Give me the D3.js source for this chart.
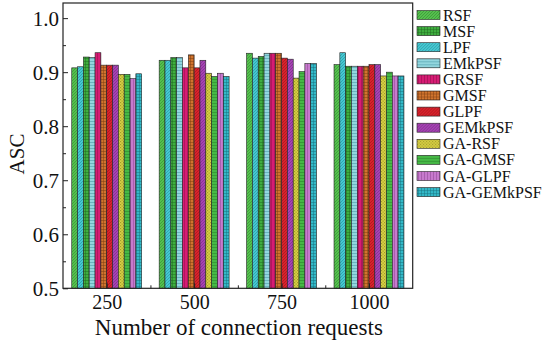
<!DOCTYPE html>
<html lang="en">
<head>
<meta charset="UTF-8">
<title>ASC bars</title>
<script src="https://cdn.jsdelivr.net/npm/d3@7"></script>
<style>
    body{ margin:0; background:#fff; }
    svg text{ font-family:"Liberation Serif","Times New Roman",serif; fill:#111; }
</style>
</head>
<body>
<svg id="chart" width="544" height="340"></svg>
<script>
    // data
    let groups = [250, 500, 750, 1000]
    let series = ["RSF", "MSF", "LPF", "EMkPSF", "GRSF", "GMSF", "GLPF", "GEMkPSF",
        "GA-RSF", "GA-GMSF", "GA-GLPF", "GA-GEMkPSF"]
    // order in which the bars stand inside a group
    let bar_order = ["RSF", "LPF", "MSF", "EMkPSF", "GRSF", "GMSF", "GLPF", "GEMkPSF",
        "GA-RSF", "GA-GMSF", "GA-GLPF", "GA-GEMkPSF"]
    let asc = {
        "RSF":        [0.908, 0.922, 0.935, 0.914],
        "LPF":        [0.910, 0.922, 0.926, 0.936],
        "MSF":        [0.928, 0.927, 0.929, 0.911],
        "EMkPSF":     [0.927, 0.927, 0.935, 0.911],
        "GRSF":       [0.936, 0.908, 0.935, 0.911],
        "GMSF":       [0.913, 0.932, 0.935, 0.911],
        "GLPF":       [0.913, 0.908, 0.926, 0.914],
        "GEMkPSF":    [0.913, 0.922, 0.924, 0.914],
        "GA-RSF":     [0.896, 0.898, 0.889, 0.893],
        "GA-GMSF":    [0.896, 0.892, 0.901, 0.900],
        "GA-GLPF":    [0.888, 0.898, 0.916, 0.893],
        "GA-GEMkPSF": [0.897, 0.892, 0.916, 0.893]
    }
    let y_ticks = [0.5, 0.6, 0.7, 0.8, 0.9, 1.0]

    // look of each series: base colour, line colour, hatch kind
    let looks = {
        "RSF":        ["#55c04e", "#2a7a28", "diag"],
        "MSF":        ["#3fae3f", "#1f6a1f", "grid"],
        "LPF":        ["#45c8d2", "#1f7c88", "diag"],
        "EMkPSF":     ["#92d6de", "#3b8f9a", "hor"],
        "GRSF":       ["#d61c74", "#8a0d45", "vert"],
        "GMSF":       ["#d0742e", "#7a3a10", "grid"],
        "GLPF":       ["#d8222c", "#8a1016", "diag"],
        "GEMkPSF":    ["#a543b3", "#6a2475", "diag"],
        "GA-RSF":     ["#d9d245", "#8a8420", "dots"],
        "GA-GMSF":    ["#46b946", "#257a25", "hor"],
        "GA-GLPF":    ["#c77acd", "#86408c", "vert"],
        "GA-GEMkPSF": ["#33b9c8", "#17707c", "grid"]
    }

    let svg = d3.select("#chart")
    let m_left = 63, m_right = 412.7, m_top = 3, m_bottom = 288.3

    // hatch patterns
    let defs = svg.append("defs")
    series.forEach((s, i) => {
        let [base, ink, kind] = looks[s]
        let p = defs.append("pattern")
            .attr("id", "pat" + i)
            .attr("patternUnits", "userSpaceOnUse")
            .attr("width", 3).attr("height", 3)
        p.append("rect").attr("width", 3).attr("height", 3).attr("fill", base)
        let ln = (x1, y1, x2, y2) => p.append("line")
            .attr("x1", x1).attr("y1", y1).attr("x2", x2).attr("y2", y2)
            .attr("stroke", ink).attr("stroke-width", 0.6).attr("stroke-opacity", 0.8)
        if (kind === "diag") { ln(0, 3, 3, 0); ln(-1, 1, 1, -1); ln(2, 4, 4, 2) }
        if (kind === "hor") { ln(0, 1.5, 3, 1.5) }
        if (kind === "vert") { ln(1.5, 0, 1.5, 3) }
        if (kind === "grid") { ln(0, 1.5, 3, 1.5); ln(1.5, 0, 1.5, 3) }
        if (kind === "dots") {
            p.append("rect").attr("x", 0).attr("y", 0).attr("width", 1.2).attr("height", 1.2)
                .attr("fill", ink).attr("opacity", 0.7)
            p.append("rect").attr("x", 1.5).attr("y", 1.5).attr("width", 1.2).attr("height", 1.2)
                .attr("fill", ink).attr("opacity", 0.7)
        }
    })
    let fill_of = s => "url(#pat" + series.indexOf(s) + ")"

    // scales
    let x_scale = d3.scaleLinear().domain([125, 1125]).range([m_left, m_right])
    let y_scale = d3.scaleLinear().domain([0.5, 1.028]).range([m_bottom, m_top])
    let group_w = (x_scale(500) - x_scale(250)) * 0.8
    let bar_scale = d3.scaleBand().domain(bar_order).range([-group_w / 2, group_w / 2])

    // bars
    let bar_data = []
    groups.forEach((g, gi) => bar_order.forEach(s => bar_data.push({g: g, s: s, v: asc[s][gi]})))
    svg.append("g").selectAll("rect")
        .data(bar_data)
        .join("rect")
        .attr("x", d => x_scale(d.g) + bar_scale(d.s))
        .attr("y", d => y_scale(d.v))
        .attr("width", bar_scale.bandwidth())
        .attr("height", d => m_bottom - y_scale(d.v))
        .attr("fill", d => fill_of(d.s))
        .attr("stroke", "#222")
        .attr("stroke-width", 0.6)

    // frame
    svg.append("rect")
        .attr("x", m_left).attr("y", m_top)
        .attr("width", m_right - m_left).attr("height", m_bottom - m_top)
        .attr("fill", "none").attr("stroke", "#222").attr("stroke-width", 1.2)

    // y axis, ticks pointing inward
    let y_axis = d3.axisRight(y_scale).tickValues(y_ticks).tickSize(5).tickFormat(d3.format(".1f"))
    let ya = svg.append("g").attr("transform", `translate(${m_left},0)`).call(y_axis)
    ya.select(".domain").remove()
    ya.selectAll("text").attr("x", -4).attr("text-anchor", "end")
        .style("font-size", "21px").attr("dy", "0.34em")
    let ym = svg.append("g").attr("transform", `translate(${m_left},0)`)
        .call(d3.axisRight(y_scale).tickValues([0.55, 0.65, 0.75, 0.85, 0.95]).tickSize(3).tickFormat(""))
    ym.select(".domain").remove()

    // x axis, ticks pointing inward
    let x_axis = d3.axisTop(x_scale).tickValues(groups).tickSize(5).tickFormat(d3.format("d"))
    let xa = svg.append("g").attr("transform", `translate(0,${m_bottom})`).call(x_axis)
    xa.select(".domain").remove()
    xa.selectAll("text").attr("y", 21).attr("dy", 0).style("font-size", "20px")
    let xm = svg.append("g").attr("transform", `translate(0,${m_bottom})`)
        .call(d3.axisTop(x_scale).tickValues([375, 625, 875]).tickSize(3).tickFormat(""))
    xm.select(".domain").remove()
    svg.selectAll(".tick line").attr("stroke", "#222")

    // axis titles
    svg.append("text")
        .attr("x", (m_left + m_right) / 2 + 1)
        .attr("y", 335)
        .attr("text-anchor", "middle")
        .style("font-size", "23px")
        .text("Number of connection requests")
    svg.append("text")
        .attr("transform", "rotate(-90)")
        .attr("x", -154)
        .attr("y", 24)
        .attr("text-anchor", "middle")
        .style("font-size", "21px")
        .text("ASC")

    // legend
    let legend = svg.append("g").selectAll("g")
        .data(series)
        .join("g")
        .attr("transform", (d, i) => `translate(417,${15 + i * 16.1})`)
    legend.append("rect")
        .attr("x", 0).attr("y", -4.5)
        .attr("width", 23).attr("height", 9)
        .attr("fill", d => fill_of(d))
        .attr("stroke", "#222").attr("stroke-width", 0.6)
    legend.append("text")
        .attr("x", 26).attr("y", 5.5)
        .style("font-size", "16px")
        .text(d => d)
</script>
</body>
</html>
